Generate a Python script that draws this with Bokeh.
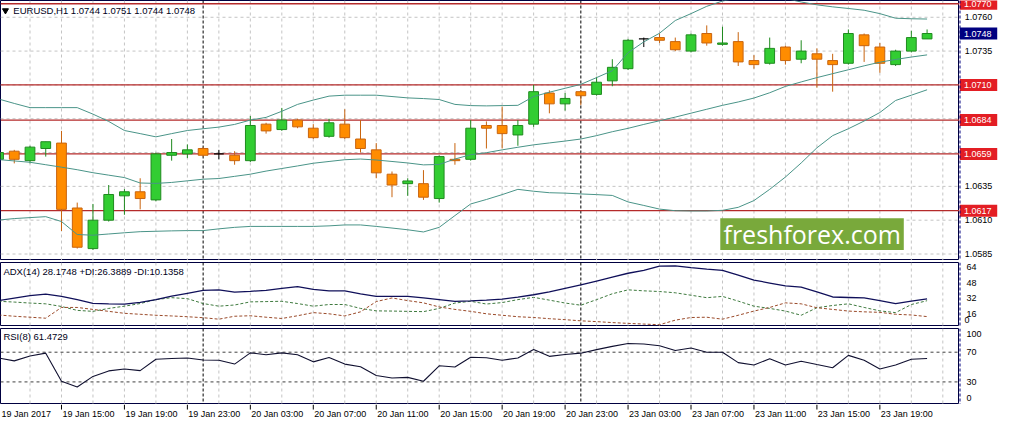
import pandas as pd
from bokeh.plotting import figure
from bokeh.layouts import column, row
from bokeh.models import Range1d, Span, Label, BoxAnnotation, ColumnDataSource
from bokeh.embed import file_html
from bokeh.resources import INLINE
from bokeh.core.properties import value

FONT = "Liberation Sans"

# ---------------- data ----------------
bar_times = list(pd.date_range("2017-01-19 11:00", "2017-01-20 23:00", freq="h")) + \
    list(pd.date_range("2017-01-23 00:00", periods=23, freq="h"))

opens = [1.0655, 1.0661, 1.0654, 1.0663, 1.0667, 1.0619, 1.0589, 1.0610, 1.0628, 1.0631,
         1.0625, 1.0658, 1.0659, 1.0663, 1.0659, 1.0658, 1.0654, 1.0681, 1.0677, 1.0684,
         1.0678, 1.0672, 1.0681, 1.0670, 1.0662, 1.0644, 1.0637, 1.0637, 1.0626, 1.0655,
         1.0655, 1.0680, 1.0680, 1.0673, 1.0681, 1.0704, 1.0696, 1.0705, 1.0703, 1.0713,
         1.0722, 1.0744, 1.0745, 1.0742, 1.0735, 1.0748, 1.0740, 1.0742, 1.0728, 1.0726,
         1.0738, 1.0729, 1.0733, 1.0728, 1.0726, 1.0747, 1.0738, 1.0725, 1.0735, 1.0744]
highs = [1.0661, 1.0662, 1.0665, 1.0668, 1.0676, 1.0623, 1.0622, 1.0636, 1.0633, 1.0641,
         1.0660, 1.0670, 1.0666, 1.0664, 1.0662, 1.0661, 1.0687, 1.0682, 1.0693, 1.0685,
         1.0681, 1.0685, 1.0692, 1.0684, 1.0667, 1.0646, 1.0641, 1.0647, 1.0658, 1.0667,
         1.0684, 1.0683, 1.0694, 1.0684, 1.0710, 1.0706, 1.0704, 1.0706, 1.0716, 1.0729,
         1.0744, 1.0745, 1.0748, 1.0745, 1.0748, 1.0754, 1.0753, 1.0749, 1.0732, 1.0745,
         1.0739, 1.0743, 1.0737, 1.0733, 1.0751, 1.0748, 1.0741, 1.0736, 1.0750, 1.0751]
lows = [1.0653, 1.0652, 1.0652, 1.0657, 1.0602, 1.0589, 1.0588, 1.0609, 1.0614, 1.0618,
        1.0624, 1.0654, 1.0656, 1.0657, 1.0655, 1.0651, 1.0653, 1.0674, 1.0676, 1.0678,
        1.0670, 1.0671, 1.0670, 1.0660, 1.0641, 1.0627, 1.0628, 1.0625, 1.0623, 1.0651,
        1.0654, 1.0663, 1.0663, 1.0665, 1.0679, 1.0689, 1.0691, 1.0695, 1.0702, 1.0709,
        1.0721, 1.0738, 1.0741, 1.0735, 1.0734, 1.0739, 1.0739, 1.0724, 1.0722, 1.0725,
        1.0725, 1.0726, 1.0708, 1.0705, 1.0725, 1.0727, 1.0719, 1.0724, 1.0734, 1.0744]
closes = [1.0660, 1.0655, 1.0664, 1.0668, 1.0618, 1.0590, 1.0610, 1.0629, 1.0631, 1.0626,
          1.0659, 1.0660, 1.0662, 1.0658, 1.0659, 1.0654, 1.0680, 1.0676, 1.0684, 1.0679,
          1.0671, 1.0682, 1.0671, 1.0663, 1.0645, 1.0636, 1.0639, 1.0627, 1.0657, 1.0654,
          1.0678, 1.0678, 1.0674, 1.0680, 1.0705, 1.0696, 1.0700, 1.0702, 1.0712, 1.0723,
          1.0743, 1.0744, 1.0743, 1.0736, 1.0747, 1.0741, 1.0741, 1.0727, 1.0725, 1.0737,
          1.0728, 1.0735, 1.0729, 1.0725, 1.0748, 1.0739, 1.0726, 1.0735, 1.0745, 1.0748]

bb_upper = [1.06996, 1.06963, 1.06932, 1.06932, 1.06932, 1.06932, 1.06884, 1.06830, 1.06763, 1.06740,
            1.06716, 1.06740, 1.06763, 1.06776, 1.06788, 1.06808, 1.06840, 1.06860, 1.06905, 1.06956,
            1.06988, 1.07017, 1.07024, 1.07024, 1.07024, 1.07014, 1.07004, 1.06999, 1.06992, 1.06956,
            1.06947, 1.06945, 1.06947, 1.06949, 1.07014, 1.07046, 1.07075, 1.07104, 1.07154, 1.07205,
            1.07338, 1.07418, 1.07482, 1.07576, 1.07627, 1.07681, 1.07720, 1.07742, 1.07749, 1.07749,
            1.07739, 1.07713, 1.07692, 1.07677, 1.07665, 1.07652, 1.07627, 1.07593, 1.07589, 1.07587]
bb_middle = [1.06548, 1.06538, 1.06528, 1.06510, 1.06492, 1.06473, 1.06451, 1.06433, 1.06415, 1.06375,
             1.06372, 1.06379, 1.06391, 1.06403, 1.06408, 1.06424, 1.06440, 1.06463, 1.06482, 1.06501,
             1.06521, 1.06534, 1.06547, 1.06552, 1.06545, 1.06534, 1.06523, 1.06509, 1.06512, 1.06552,
             1.06584, 1.06599, 1.06620, 1.06639, 1.06657, 1.06671, 1.06685, 1.06700, 1.06725, 1.06754,
             1.06779, 1.06808, 1.06835, 1.06862, 1.06891, 1.06920, 1.06949, 1.06974, 1.07003, 1.07042,
             1.07089, 1.07122, 1.07154, 1.07183, 1.07212, 1.07241, 1.07268, 1.07288, 1.07306, 1.07322]
bb_lower = [1.06101, 1.06112, 1.06119, 1.06126, 1.06090, 1.05994, 1.05989, 1.05998, 1.06007, 1.06015,
            1.06018, 1.06021, 1.06023, 1.06023, 1.06036, 1.06047, 1.06054, 1.06054, 1.06054, 1.06054,
            1.06054, 1.06058, 1.06065, 1.06065, 1.06054, 1.06042, 1.06029, 1.06013, 1.06047, 1.06134,
            1.06220, 1.06253, 1.06289, 1.06328, 1.06314, 1.06303, 1.06300, 1.06294, 1.06289, 1.06283,
            1.06235, 1.06209, 1.06182, 1.06170, 1.06168, 1.06168, 1.06173, 1.06195, 1.06245, 1.06328,
            1.06419, 1.06523, 1.06635, 1.06725, 1.06776, 1.06833, 1.06896, 1.06985, 1.07024, 1.07064]

adx = [26.5, 29.0, 31.5, 33.2, 30.8, 27.5, 23.7, 23.2, 23.0, 24.7,
       27.5, 31.0, 34.0, 37.0, 37.5, 35.2, 36.0, 37.0, 39.0, 40.8,
       38.0, 36.5, 36.5, 33.5, 30.8, 30.8, 30.8, 29.2, 27.5, 25.8,
       26.2, 27.0, 28.0, 30.0, 32.5, 35.5, 39.0, 42.5, 46.5, 50.5,
       54.5, 57.5, 61.8, 62.0, 60.2, 58.7, 57.5, 52.5, 47.5, 44.5,
       41.5, 40.2, 35.5, 30.2, 29.7, 29.2, 26.5, 23.5, 26.0, 28.17]
plus_di = [25.8, 25.0, 24.0, 23.2, 20.5, 16.5, 15.5, 18.5, 20.8, 23.5,
           27.5, 29.5, 28.5, 23.5, 20.8, 22.0, 25.2, 25.5, 25.8, 23.5,
           20.8, 22.5, 22.5, 18.5, 16.0, 15.8, 15.5, 15.2, 18.5, 24.0,
           25.8, 23.0, 24.5, 27.5, 29.8, 27.0, 24.0, 21.8, 27.5, 33.5,
           37.5, 36.5, 35.8, 34.5, 32.0, 29.5, 30.8, 26.0, 20.8, 18.5,
           15.8, 11.5, 19.2, 21.5, 23.2, 19.5, 16.0, 14.2, 22.5, 26.39]
minus_di = [11.8, 10.5, 9.5, 8.5, 19.5, 19.5, 17.5, 15.5, 13.5, 12.5,
            11.5, 10.8, 10.0, 9.0, 7.5, 10.5, 11.0, 9.5, 8.2, 11.0,
            14.2, 13.0, 10.8, 15.0, 25.5, 29.2, 26.5, 24.2, 20.0, 17.5,
            15.5, 13.0, 11.5, 10.0, 9.2, 8.0, 7.0, 5.8, 5.0, 4.0,
            3.2, 2.5, 1.8, 6.5, 9.2, 9.5, 7.5, 11.5, 15.8, 19.5,
            24.2, 23.2, 19.2, 17.5, 15.8, 15.0, 14.5, 12.5, 11.8, 10.14]
rsi = [62.2, 58.3, 64.8, 68.7, 30.9, 23.1, 37.4, 44.8, 47.4, 45.2,
       60.5, 61.5, 62.2, 59.6, 59.2, 54.0, 69.1, 66.5, 69.1, 66.5,
       57.0, 62.8, 54.0, 50.4, 38.7, 35.2, 36.1, 30.9, 51.7, 50.1,
       63.1, 62.6, 59.2, 62.2, 73.5, 64.4, 67.0, 68.7, 73.5, 77.8,
       81.7, 81.1, 78.7, 72.2, 75.6, 70.0, 70.0, 56.0, 52.7, 61.3,
       52.7, 57.9, 53.4, 49.1, 65.7, 59.2, 47.4, 52.7, 60.5, 61.47]

level_lines = [1.0770, 1.0710, 1.0684, 1.0659, 1.0617]
current_price = 1.0748
price_grid = [1.0585, 1.0610, 1.0635, 1.0660, 1.0685, 1.0710, 1.0735, 1.0760]
price_tick_labels = [1.0760, 1.0735, 1.0635, 1.0610, 1.0585]
adx_tick_labels = [64, 48, 32, 16]
rsi_levels = [70, 30]
rsi_tick_labels = [100, 70, 30, 0]

header_main = "EURUSD,H1  1.0744 1.0751 1.0744 1.0748"
header_adx = "ADX(14) 28.1748 +DI:26.3889 -DI:10.1358"
header_rsi = "RSI(8) 61.4729"
watermark = "freshforex.com"

# ---------------- derived ----------------
n = len(opens)
idx = list(range(n))
grid_idx = [i for i in idx if i % 2 == 0] + [60]
sep_idx = [i for i, t in enumerate(bar_times) if t.hour == 0]
tick_idx = [i for i, t in enumerate(bar_times) if i > 0 and t.hour % 4 == 3]
tick_text = [bar_times[i].strftime("%d %b %H:%M") for i in tick_idx]
first_label = bar_times[0].strftime("%d %b %Y")

PANEL_W, LABEL_W = 959, 41
xr = Range1d(0.125, 61.06)
price_range = Range1d(1.05802, 1.07724)
adx_range = Range1d(0.0, 65.5)
rsi_range = Range1d(-0.4, 101.9)

FRAME = "#000040"
GRID = "#c4c4c4"
RED = "#b52a2a"
BOXRED = "#e31e24"
NAVY = "#000080"
BB = "#4a9488"


def panel(height, y_range, top=0):
    p = figure(width=PANEL_W, height=height, x_range=xr, y_range=y_range,
               x_axis_type=None, y_axis_type=None, toolbar_location=None,
               output_backend="svg", min_border_left=0, min_border_right=0,
               min_border_top=top, min_border_bottom=0,
               outline_line_color=FRAME, outline_line_width=1,
               background_fill_color="white", border_fill_color="white")
    for gx in grid_idx:
        p.add_layout(Span(location=gx, dimension="height", line_color=GRID,
                          line_dash="3 3", line_width=1, level="underlay"))
    for sx in sep_idx:
        p.add_layout(Span(location=sx, dimension="height", line_color="#000000",
                          line_dash="3 2", line_width=1, level="underlay"))
    return p


def label_fig(height, y_range, top=0):
    f = figure(width=LABEL_W, height=height, x_range=Range1d(0, 1), y_range=y_range,
               x_axis_type=None, y_axis_type=None, toolbar_location=None,
               output_backend="svg", min_border_left=0, min_border_right=0,
               min_border_top=top, min_border_bottom=0,
               outline_line_color=None, background_fill_color="white",
               border_fill_color="white")
    f.add_layout(Span(location=0.0, dimension="height", line_color=NAVY,
                      line_dash="3 2", line_width=2, level="overlay"))
    return f


# ---------------- main panel ----------------
p1 = panel(260, price_range)
for gy in price_grid:
    p1.add_layout(Span(location=gy, dimension="width", line_color=GRID,
                       line_dash="3 3", line_width=1, level="underlay"))
for lv in level_lines:
    p1.add_layout(Span(location=lv, dimension="width", line_color=RED,
                       line_width=1.3, level="underlay"))

body = dict(x=[], top=[], bottom=[], fill=[], line=[])
wick = dict(x=[], hi=[], lo=[], color=[])
doji = dict(x0=[], x1=[], y=[])
for i in idx:
    o, h, l, c = opens[i], highs[i], lows[i], closes[i]
    if c > o:
        fc, lc = "#32cd32", "#1f8a1f"
    elif c < o:
        fc, lc = "#ff8c00", "#c8640f"
    else:
        fc, lc = None, "#000000"
    wick["x"].append(i); wick["hi"].append(h); wick["lo"].append(l); wick["color"].append(lc)
    if fc is None:
        doji["x0"].append(i - 0.31); doji["x1"].append(i + 0.31); doji["y"].append(c)
    else:
        body["x"].append(i); body["top"].append(max(o, c)); body["bottom"].append(min(o, c))
        body["fill"].append(fc); body["line"].append(lc)

p1.segment(x0="x", y0="lo", x1="x", y1="hi", line_color="color", line_width=1,
           source=ColumnDataSource(wick))
p1.vbar(x="x", width=0.62, top="top", bottom="bottom", fill_color="fill",
        line_color="line", line_width=1, source=ColumnDataSource(body))
p1.segment(x0="x0", y0="y", x1="x1", y1="y", line_color="#000000", line_width=1.3,
           source=ColumnDataSource(doji))

for band in (bb_upper, bb_middle, bb_lower):
    p1.line(idx, band, line_color=BB, line_width=1)

p1.add_layout(BoxAnnotation(left=45.86, right=57.52, bottom=1.05879, top=1.06114,
                            fill_color="#79a93b", fill_alpha=1.0, line_color=None))
p1.add_layout(Label(x=51.7, y=1.05997, text=watermark, text_align="center",
                    text_baseline="middle", text_color="white",
                    text_font="Open Sans", text_font_size="25px"))
p1.scatter(x=[0.44], y=[1.07650], marker="inverted_triangle", size=6,
           color="#000000")
p1.add_layout(Label(x=0.94, y=1.07650, text=header_main, text_baseline="middle",
                    text_font=FONT, text_font_size="9.5px", text_color="#000020"))

l1 = label_fig(260, price_range)
l1.text(x=[0.13] * len(price_tick_labels), y=price_tick_labels,
        text=[f"{v:.4f}" for v in price_tick_labels], text_font=value(FONT),
        text_font_size="9px", text_baseline="middle", text_color="#000000")
l1.rect(x=[0.46] * len(level_lines), y=level_lines, width=0.92, height=12,
        height_units="screen", fill_color=BOXRED, line_color=None)
l1.text(x=[0.11] * len(level_lines), y=level_lines,
        text=[f"{v:.4f}" for v in level_lines], text_font=value(FONT),
        text_font_size="9px", text_baseline="middle", text_color="white")
l1.rect(x=[0.46], y=[current_price], width=0.92, height=12, height_units="screen",
        fill_color=NAVY, line_color=None)
l1.text(x=[0.11], y=[current_price], text=[f"{current_price:.4f}"],
        text_font=value(FONT), text_font_size="9px", text_baseline="middle",
        text_color="white")

# ---------------- ADX panel ----------------
p2 = panel(66, adx_range, top=2)
p2.line(idx, plus_di, line_color="#3f7a3f", line_width=1, line_dash="3 2")
p2.line(idx, minus_di, line_color="#9a4a2a", line_width=1, line_dash="3 2")
p2.line(idx, adx, line_color="#10105a", line_width=1.3)
p2.add_layout(Label(x=0.31, y=55.8, text=header_adx, text_baseline="middle",
                    text_font=FONT, text_font_size="9.5px", text_color="#000020"))

l2 = label_fig(66, adx_range, top=2)
l2.text(x=[0.17] * len(adx_tick_labels), y=adx_tick_labels,
        text=[str(v) for v in adx_tick_labels], text_font=value(FONT),
        text_font_size="9px", text_baseline="top", text_color="#000000")
l2.text(x=[0.12], y=[4.0], text=["0"], text_font=value(FONT), text_font_size="9px",
        text_baseline="bottom", text_color="#000000")

# ---------------- RSI panel ----------------
p3 = panel(78, rsi_range, top=2)
for lv in rsi_levels:
    p3.add_layout(Span(location=lv, dimension="width", line_color="#404040",
                       line_dash="3 3", line_width=1, level="underlay"))
p3.line(idx, rsi, line_color="#101030", line_width=1.1)
p3.add_layout(Label(x=0.31, y=90.9, text=header_rsi, text_baseline="middle",
                    text_font=FONT, text_font_size="9.5px", text_color="#000020"))

l3 = label_fig(78, rsi_range, top=2)
l3.text(x=[0.17], y=[98.5], text=["100"], text_font=value(FONT), text_font_size="9px",
        text_baseline="top", text_color="#000000")
l3.text(x=[0.17, 0.17], y=[70, 30], text=["70", "30"], text_font=value(FONT),
        text_font_size="9px", text_baseline="middle", text_color="#000000")
l3.text(x=[0.17], y=[4.5], text=["0"], text_font=value(FONT), text_font_size="9px",
        text_baseline="bottom", text_color="#000000")

# ---------------- time axis ----------------
pt = figure(width=PANEL_W, height=21, x_range=xr, y_range=Range1d(0, 1),
            x_axis_type=None, y_axis_type=None, toolbar_location=None,
            output_backend="svg", min_border=0, outline_line_color=None,
            background_fill_color="white", border_fill_color="white")
pt.segment(x0=tick_idx, y0=[1.0] * len(tick_idx), x1=tick_idx,
           y1=[0.76] * len(tick_idx), line_color="#000000", line_width=1)
pt.text(x=[0.19] + [i + 0.06 for i in tick_idx], y=[0.57] * (len(tick_idx) + 1),
        text=[first_label] + tick_text, text_font=value(FONT), text_font_size="9px",
        text_baseline="middle", text_align="left", text_color="#000000")

layout = column(row(p1, l1), row(p2, l2), row(p3, l3), pt)

open("out.html", "w").write(file_html(layout, INLINE))
